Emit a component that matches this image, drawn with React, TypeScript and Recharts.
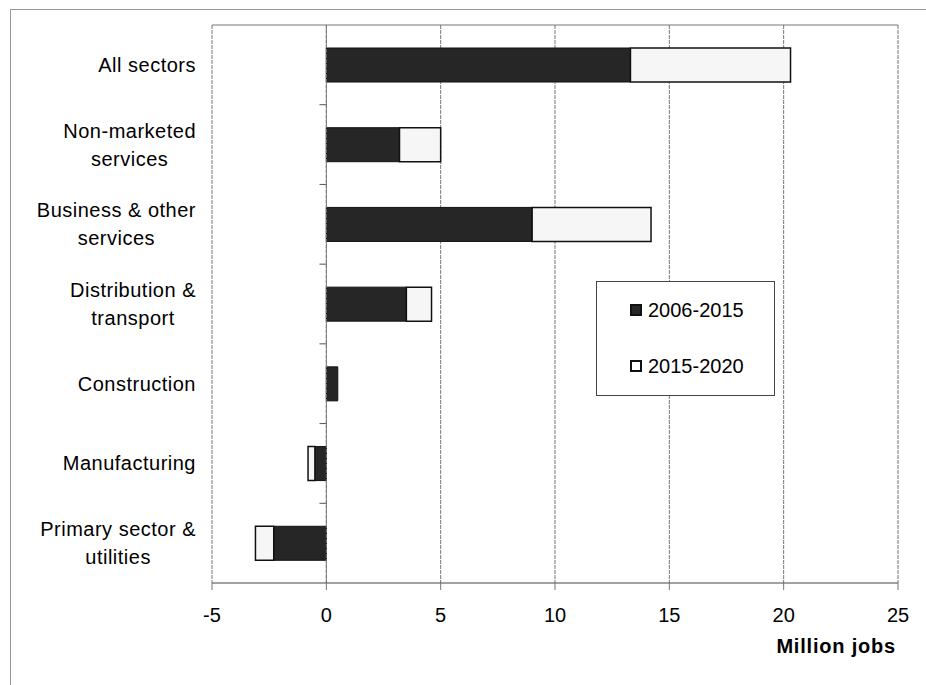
import {
  BarChart,
  Bar,
  XAxis,
  YAxis,
  CartesianGrid,
  ReferenceLine,
  Legend,
  Label,
} from "recharts";

const categories = [
  "All sectors",
  "Non-marketed\nservices",
  "Business & other\nservices",
  "Distribution &\ntransport",
  "Construction",
  "Manufacturing",
  "Primary sector &\nutilities",
];
const seriesNames = ["2006-2015", "2015-2020"];
const growth2006to2015 = [13.3, 3.2, 9.0, 3.5, 0.5, -0.5, -2.3];
const growth2015to2020 = [7.0, 1.8, 5.2, 1.1, 0, -0.3, -0.8];
const xTicks = [-5, 0, 5, 10, 15, 20, 25];

const data = categories.map((name, i) => ({
  name,
  early: growth2006to2015[i],
  late: growth2015to2020[i],
}));

const FONT = "'Liberation Sans', Arial, sans-serif";
const LABEL_SPACING = 0.5;
const LABEL_RIGHT = 196;

let ctx: CanvasRenderingContext2D | null = null;
function textWidth(s: string) {
  if (!ctx) {
    ctx = document.createElement("canvas").getContext("2d");
    if (ctx) ctx.font = `20px ${FONT}`;
  }
  const w = ctx ? ctx.measureText(s).width : s.length * 10;
  return w + s.length * LABEL_SPACING;
}

function CategoryTick(props: any) {
  const { y, payload } = props;
  const lines: string[] = String(payload.value).split("\n");
  const maxW = Math.max(...lines.map(textWidth));
  const cx = LABEL_RIGHT - maxW / 2;
  return (
    <g>
      {lines.map((line, i) => (
        <text
          key={i}
          x={cx}
          y={y + (i - (lines.length - 1) / 2) * 28}
          dy="0.35em"
          textAnchor="middle"
          fontSize={20}
          fontFamily={FONT}
          letterSpacing={LABEL_SPACING}
          fill="#000"
        >
          {line}
        </text>
      ))}
    </g>
  );
}

function UnitLabel(props: any) {
  const vb = props.viewBox || {};
  return (
    <text
      x={vb.x + vb.width - 2}
      y={vb.y + 70}
      textAnchor="end"
      fontSize={20}
      fontWeight="bold"
      fontFamily={FONT}
      letterSpacing={0.8}
      fill="#000"
    >
      Million jobs
    </text>
  );
}

function LegendBox() {
  return (
    <div
      style={{
        width: "100%",
        height: "100%",
        boxSizing: "border-box",
        border: "1px solid #444",
        background: "#fff",
        position: "relative",
        fontFamily: FONT,
        fontSize: 20,
      }}
    >
      {seriesNames.map((s, i) => (
        <div
          key={s}
          style={{
            position: "absolute",
            left: 33,
            top: 16 + i * 56,
            display: "flex",
            alignItems: "center",
            height: 24,
          }}
        >
          <span
            style={{
              display: "inline-block",
              width: 12,
              height: 12,
              boxSizing: "border-box",
              background: i === 0 ? "#262626" : "#fff",
              border: "2px solid #111",
              marginRight: 6,
            }}
          />
          <span>{s}</span>
        </div>
      ))}
    </div>
  );
}

export default function App() {
  return (
    <div
      style={{
        position: "absolute",
        left: 0,
        top: 0,
        width: 926,
        height: 685,
        background: "#fff",
        overflow: "hidden",
      }}
    >
      <div
        style={{
          position: "absolute",
          left: 10,
          top: 9,
          right: -2,
          bottom: -2,
          borderTop: "1px solid #999",
          borderLeft: "1px solid #999",
        }}
      />
      <BarChart
        layout="vertical"
        width={926}
        height={685}
        data={data}
        margin={{ top: 25, right: 28, bottom: 0, left: 0 }}
        stackOffset="sign"
        barSize={34}
      >
        <CartesianGrid horizontal={false} stroke="#777" strokeDasharray="4 1" />
        <XAxis
          type="number"
          domain={[-5, 25]}
          ticks={xTicks}
          height={102}
          tickSize={7}
          tickMargin={18}
          axisLine={{ stroke: "#444" }}
          tickLine={{ stroke: "#777" }}
          tick={{ fill: "#000", fontSize: 20, fontFamily: FONT }}
        >
          <Label content={UnitLabel} />
        </XAxis>
        <YAxis
          yAxisId="cat"
          type="category"
          dataKey="name"
          width={212}
          axisLine={false}
          tickLine={false}
          tick={<CategoryTick />}
          interval={0}
        />
        {/* top edge of the plot box */}
        <ReferenceLine
          yAxisId="cat"
          y={categories[0]}
          position="start"
          stroke="#777"
          ifOverflow="visible"
        />
        <ReferenceLine x={0} yAxisId="cat" stroke="#777" strokeDasharray="4 1" />
        {/* small ticks on the zero line between categories */}
        {categories.slice(1).map((c) => (
          <ReferenceLine
            key={c}
            yAxisId="cat"
            position="start"
            segment={[
              { x: -0.3, y: c },
              { x: 0, y: c },
            ]}
            stroke="#555"
            ifOverflow="visible"
          />
        ))}
        <Bar
          yAxisId="cat"
          dataKey="early"
          name={seriesNames[0]}
          stackId="s"
          fill="#262626"
          stroke="#111"
          strokeWidth={1}
          isAnimationActive={false}
        />
        <Bar
          yAxisId="cat"
          dataKey="late"
          name={seriesNames[1]}
          stackId="s"
          fill="#f6f6f6"
          stroke="#111"
          strokeWidth={1.5}
          isAnimationActive={false}
        />
        <Legend
          layout="vertical"
          align="center"
          verticalAlign="middle"
          content={LegendBox}
          wrapperStyle={{ position: "absolute", left: 596, top: 281, width: 179, height: 115 }}
        />
      </BarChart>
    </div>
  );
}
